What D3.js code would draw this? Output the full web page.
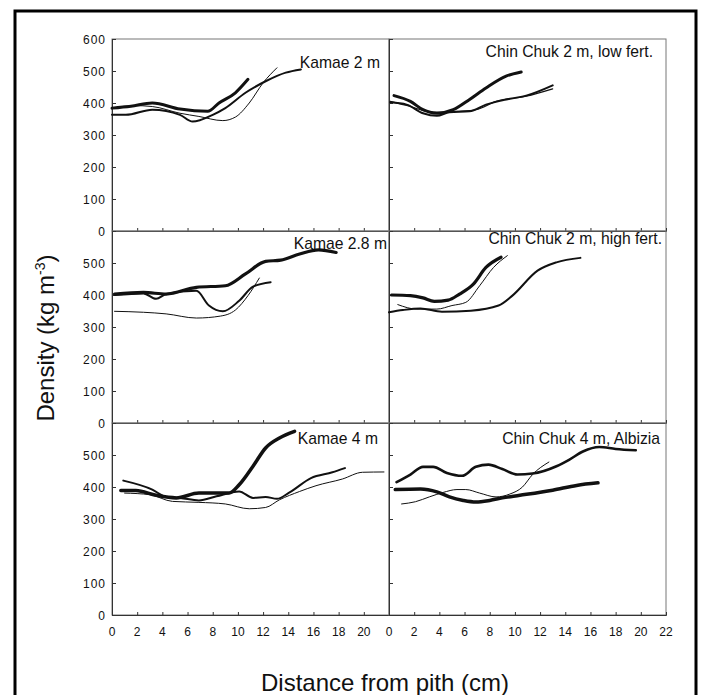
<!DOCTYPE html>
<html>
<head>
<meta charset="utf-8">
<script src="https://cdn.jsdelivr.net/npm/d3@7"></script>
<style>
  body { margin: 0; background: #fff; }
  text { font-family: Arial, "Liberation Sans", Helvetica, sans-serif; fill: #111; }
</style>
</head>
<body>
<svg id="chart" width="701" height="695"></svg>
<script>
// tick values
var xTicks = [0, 2, 4, 6, 8, 10, 12, 14, 16, 18, 20, 22];
var yTicksTop = [0, 100, 200, 300, 400, 500, 600];
var yTicksLow = [0, 100, 200, 300, 400, 500];

// panel titles (row by row, left then right)
var panelTitles = ["Kamae 2 m", "Chin Chuk 2 m, low fert.",
                   "Kamae 2.8 m", "Chin Chuk 2 m, high fert.",
                   "Kamae 4 m", "Chin Chuk 4 m, Albizia"];

// [distance cm, density kg/m3]
// Kamae 2 m
var kamae2A = [[0,384],[1.5,390],[3.2,400],[5.4,381],[7.6,374],[8.5,400],[9.8,432],[10.8,474]];
var kamae2B = [[0,363],[1.1,363],[3.2,379],[5.4,363],[6.4,342],[8,363],[9,384],[10.6,432],[12.2,468],[13.8,495],[15,505]];
var kamae2C = [[0.2,385],[1.7,392],[3.2,389],[5.4,368],[6.9,358],[8.8,345],[9.8,356],[10.9,400],[12,463],[13.1,510]];
// Chin Chuk 2 m, low fert.
var chin2lowA = [[0.4,423],[1.7,405],[2.7,379],[3.8,368],[5.1,379],[6.4,411],[7.7,447],[9.3,484],[10.5,497]];
var chin2lowB = [[0.1,402],[1.4,395],[2.7,368],[3.8,360],[4.8,371],[6.4,374],[7.7,395],[9.6,413],[10.9,423],[13,455]];
var chin2lowC = [[0.1,405],[1.7,389],[3,374],[4,371],[5.4,374],[6.9,379],[8.5,405],[10.9,421],[13,444]];
// Kamae 2.8 m
var kamae28A = [[0.2,403],[2.5,408],[4.3,403],[6.7,424],[9,429],[10.6,466],[12.2,505],[13.4,509],[14.9,528],[16.4,541],[17.8,533]];
var kamae28B = [[0.2,400],[2.5,405],[3.5,388],[4.3,403],[6.7,413],[7.7,367],[8.8,349],[10.1,382],[11.2,426],[12.6,440]];
var kamae28C = [[0.2,349],[2.5,346],[4.3,341],[6.7,328],[8.6,334],[9.8,353],[10.8,398],[11.7,453]];
// Chin Chuk 2 m, high fert.
var chin2highA = [[0.2,400],[1.7,398],[2.7,391],[3.6,380],[4.7,384],[5.6,403],[6.7,434],[7.7,486],[8.9,518]];
var chin2highB = [[0,346],[1.1,353],[2.5,358],[4.2,348],[6.5,351],[8.7,367],[9.8,398],[11.8,476],[13.3,502],[15.2,516]];
var chin2highC = [[0.7,370],[2.2,356],[3.8,356],[5,367],[6.1,377],[7.2,429],[8.3,486],[9.4,523]];
// Kamae 4 m
var kamae4A = [[0.7,389],[1.9,389],[3.5,374],[5.1,366],[6.9,381],[8.3,381],[9.3,381],[10.1,407],[11.2,465],[12.2,522],[13.3,553],[14.5,574]];
var kamae4B = [[0.9,420],[3.2,392],[4.3,369],[5.4,366],[6.9,358],[8.3,371],[10.1,386],[11.2,366],[12.2,369],[13.1,363],[14.1,383],[15.8,428],[17.5,446],[18.5,459]];
var kamae4C = [[1,381],[3,376],[4.8,355],[6.9,352],[9,347],[10.9,332],[12.2,336],[13.3,360],[14.9,386],[16.2,404],[18.3,425],[19.9,446],[21.6,447]];
// Chin Chuk 4 m, Albizia
var chin4A = [[0.6,415],[1.7,439],[2.7,463],[3.5,463],[4.6,444],[5.8,435],[6.9,463],[7.9,470],[9,456],[10.2,439],[11.4,442],[13.3,465],[14.3,485],[15.4,511],[16.7,525],[18,519],[19.6,515]];
var chin4B = [[0.5,392],[2.5,394],[3.8,385],[4.8,369],[5.9,358],[6.9,353],[8,358],[9,366],[10.4,374],[13,390],[14.9,405],[16.6,413]];
var chin4C = [[1,347],[2.1,354],[3.2,369],[4.3,383],[5.4,392],[6.1,392],[7.2,381],[8.5,369],[9.6,378],[10.6,400],[11.4,439],[12.7,478]];

// 面板布局
var plotLeft = 112, panelW = 277, panelH = 192, plotTop = 39;
var panels = [
  { row: 0, col: 0, series: [[kamae2A, 3], [kamae2B, 2], [kamae2C, 1]], tx: 380, ty: 68 },
  { row: 0, col: 1, series: [[chin2lowA, 3], [chin2lowB, 2], [chin2lowC, 1.2]], tx: 653, ty: 57 },
  { row: 1, col: 0, series: [[kamae28A, 3.2], [kamae28B, 2], [kamae28C, 1]], tx: 387, ty: 249 },
  { row: 1, col: 1, series: [[chin2highA, 3.2], [chin2highB, 2], [chin2highC, 1]], tx: 662, ty: 244 },
  { row: 2, col: 0, series: [[kamae4A, 3.5], [kamae4B, 2], [kamae4C, 1]], tx: 378, ty: 444 },
  { row: 2, col: 1, series: [[chin4A, 2.6], [chin4B, 3.5], [chin4C, 1]], tx: 660, ty: 444 }
];

var svg = d3.select("#chart");

// 外框
svg.append("rect")
  .attr("x", 15).attr("y", 11)
  .attr("width", 681).attr("height", 700)
  .attr("fill", "none").attr("stroke", "#000").attr("stroke-width", 3);

panels.forEach(function(p, i){
  var x0 = plotLeft + p.col * panelW;
  var y0 = plotTop + p.row * panelH;
  var x = d3.scaleLinear().domain([0, 22]).range([x0, x0 + panelW]);
  var y = d3.scaleLinear().domain([0, 600]).range([y0 + panelH, y0]);
  var g = svg.append("g");

  // 边框
  g.append("rect")
    .attr("x", x0).attr("y", y0)
    .attr("width", panelW).attr("height", panelH)
    .attr("fill", "none").attr("stroke", "#777").attr("stroke-width", 1);

  // x 轴
  var xAxis = d3.axisTop(x).tickValues(xTicks).tickSize(3).tickFormat("");
  g.append("g").attr("transform", "translate(0," + (y0 + panelH) + ")").call(xAxis)
    .call(function(s){ s.select(".domain").attr("stroke", "#333"); s.selectAll("line").attr("stroke", "#333"); });

  if (p.row === 2) {
    var labs = p.col === 0 ? xTicks.slice(0, 11) : xTicks;
    g.selectAll(".xl").data(labs).enter().append("text")
      .attr("x", function(d){ return x(d); })
      .attr("y", y0 + panelH + 21)
      .attr("text-anchor", "middle")
      .attr("font-size", 12)
      .text(function(d){ return d; });
  }

  // y 轴
  var yt = p.row === 0 ? yTicksTop : yTicksLow;
  var yAxis = d3.axisRight(y).tickValues(yt).tickSize(4).tickFormat("");
  g.append("g").attr("transform", "translate(" + x0 + ",0)").call(yAxis)
    .call(function(s){ s.select(".domain").attr("stroke", "#333"); s.selectAll("line").attr("stroke", "#333"); });

  if (p.col === 0) {
    g.selectAll(".yl").data(yt).enter().append("text")
      .attr("x", x0 - 6)
      .attr("y", function(d){ return y(d) + 4.5; })
      .attr("text-anchor", "end")
      .attr("font-size", 12)
      .attr("letter-spacing", 1)
      .text(function(d){ return d; });
  }

  // 曲线
  var line = d3.line()
    .x(function(d){ return x(d[0]); })
    .y(function(d){ return y(d[1]); })
    .curve(d3.curveMonotoneX);
  p.series.forEach(function(s){
    g.append("path")
      .attr("d", line(s[0]))
      .attr("fill", "none")
      .attr("stroke", "#111")
      .attr("stroke-width", s[1])
      .attr("stroke-linejoin", "round")
      .attr("stroke-linecap", "round");
  });

  // 标题
  g.append("text")
    .attr("x", p.tx).attr("y", p.ty)
    .attr("text-anchor", "end")
    .attr("font-size", 15.7)
    .text(panelTitles[i]);
});

// 轴标题
svg.append("text")
  .attr("x", 385).attr("y", 691)
  .attr("text-anchor", "middle")
  .attr("font-size", 24)
  .text("Distance from pith (cm)");

var yTitle = svg.append("text")
  .attr("transform", "translate(54,338) rotate(-90)")
  .attr("text-anchor", "middle")
  .attr("font-size", 24);
yTitle.append("tspan").text("Density (kg m");
yTitle.append("tspan").attr("font-size", 14).attr("dy", -9).text("-3");
yTitle.append("tspan").attr("dy", 9).text(")");
</script>
</body>
</html>
